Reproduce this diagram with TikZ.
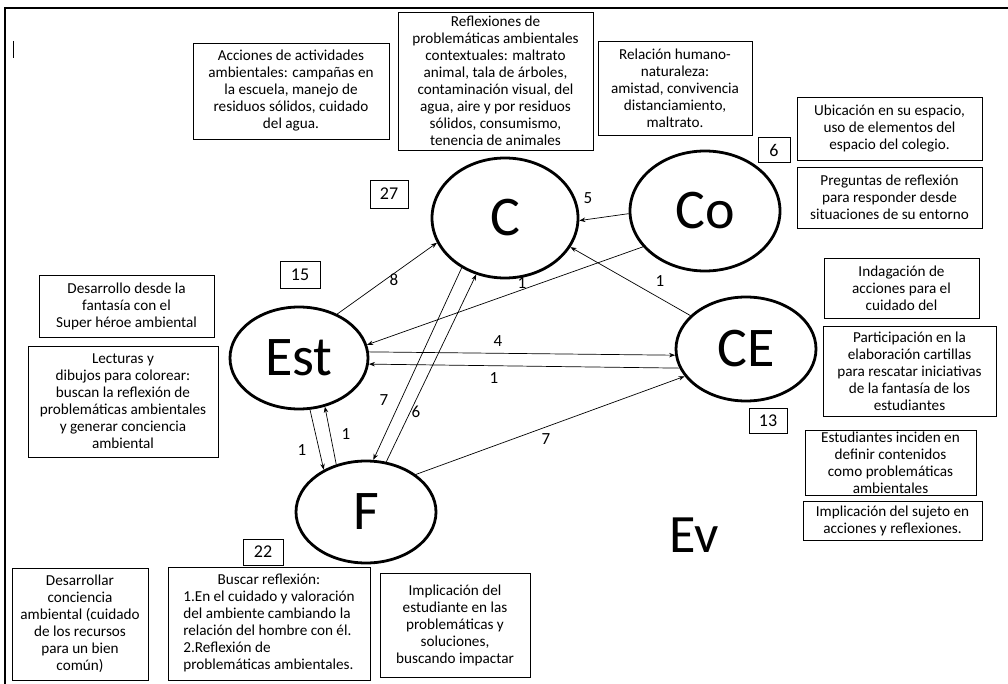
\documentclass[tikz,border=0pt]{standalone}
\usepackage{fontspec}
\setmainfont{Carlito}
\usetikzlibrary{arrows.meta,shapes.geometric}

\begin{document}
\begin{tikzpicture}[x=1pt,y=-1pt,
  note/.style={draw, line width=0.9pt, align=center, inner sep=0pt,
               font=\fontsize{15.2}{17}\selectfont},
  tag/.style={draw, line width=0.9pt, inner sep=0pt,
              font=\fontsize{18}{20}\selectfont},
  actor/.style={ellipse, draw, line width=2.8pt, inner sep=0pt,
                font=\fontsize{56}{58}\selectfont},
  link/.style={line width=0.7pt, -{Stealth[length=6pt,width=4.5pt]}},
  num/.style={inner sep=1pt, font=\fontsize{17}{19}\selectfont}
]
\useasboundingbox (0,0) rectangle (1008,684);

% page frame and cursor mark
\coordinate (frameTR) at (1008,8);
\coordinate (frameTL) at (5,8);
\coordinate (frameBL) at (5,684);
\draw[line width=1.6pt] (frameTR) -- (frameTL) -- (frameBL);
\coordinate (cursorA) at (13,41);
\coordinate (cursorB) at (13,58);
\draw[line width=1pt] (cursorA) -- (cursorB);

% categories
\node[actor, minimum width=146pt, minimum height=120pt] (C)   at (505,218) {C};
\node[actor, minimum width=150pt, minimum height=120pt] (Co)  at (705,211) {Co};
\node[actor, minimum width=138pt, minimum height=102pt] (Est) at (299,358) {Est};
\node[actor, minimum width=140pt, minimum height=104pt] (CE)  at (746,349) {CE};
\node[actor, minimum width=140pt, minimum height=102pt] (F)   at (366,512) {F};
\node[font=\fontsize{54}{56}\selectfont, inner sep=0pt] (Ev) at (694,535) {Ev};

% frequency tags
\node[tag, minimum width=38pt, minimum height=28pt] (t27) at (389,194) {27};
\node[tag, minimum width=40pt, minimum height=27pt] (t15) at (300,275) {15};
\node[tag, minimum width=32pt, minimum height=25pt] (t6)  at (774,150) {6};
\node[tag, minimum width=38pt, minimum height=25pt] (t13) at (768,421) {13};
\node[tag, minimum width=40pt, minimum height=26pt] (t22) at (263,552) {22};

% descriptive notes
\node[note, minimum width=196pt, minimum height=96pt] (nAcc) at (291,91)
  {Acciones de actividades\\ambientales: campañas en\\la escuela, manejo de\\residuos sólidos, cuidado\\del agua.};
\node[note, minimum width=195pt, minimum height=138pt] (nRef) at (495.5,81)
  {Reflexiones de\\problemáticas ambientales\\contextuales: maltrato\\animal, tala de árboles,\\contaminación visual, del\\agua, aire y por residuos\\sólidos, consumismo,\\tenencia de animales};
\node[note, minimum width=154pt, minimum height=94pt] (nRel) at (675,88)
  {Relación humano-\\naturaleza:\\amistad, convivencia\\distanciamiento,\\maltrato.};
\node[note, minimum width=185pt, minimum height=63pt] (nUbi) at (889.5,128.5)
  {Ubicación en su espacio,\\uso de elementos del\\espacio del colegio.};
\node[note, minimum width=185pt, minimum height=61pt] (nPre) at (889.5,197.5)
  {Preguntas de reflexión\\para responder desde\\situaciones de su entorno};
\node[note, minimum width=175pt, minimum height=62pt] (nDes) at (126.5,306)
  {Desarrollo desde la\\fantasía con el\\Super héroe ambiental};
\node[note, minimum width=190pt, minimum height=111pt] (nLec) at (123,401.5)
  {Lecturas y\\dibujos para colorear:\\buscan la reflexión de\\problemáticas ambientales\\y generar conciencia\\ambiental};
\node[note, minimum width=155pt, minimum height=60pt] (nInd) at (901.5,288)
  {Indagación de\\acciones para el\\cuidado del};
\node[note, minimum width=173pt, minimum height=90pt] (nPar) at (909.5,371)
  {Participación en la\\elaboración cartillas\\para rescatar iniciativas\\de la fantasía de los\\estudiantes};
\node[note, minimum width=171pt, minimum height=65pt] (nEst) at (890.5,462.5)
  {Estudiantes inciden en\\definir contenidos\\como problemáticas\\ambientales};
\node[note, minimum width=179pt, minimum height=39pt] (nImS) at (892.5,520.5)
  {Implicación del sujeto en\\acciones y reflexiones.};
\node[note, minimum width=136pt, minimum height=112pt] (nDar) at (80,624)
  {Desarrollar\\conciencia\\ambiental (cuidado\\de los recursos\\para un bien\\común)};
\node[note, minimum width=202pt, minimum height=113pt] (nBus) at (269,623.5)
  {\begin{tabular}{@{}l@{}}\multicolumn{1}{@{}c@{}}{Buscar reflexión:}\\
   1.En el cuidado y valoración\\del ambiente cambiando la\\relación del hombre con él.\\
   2.Reflexión de\\problemáticas ambientales.\end{tabular}};
\node[note, minimum width=150pt, minimum height=104pt] (nImE) at (455,625)
  {Implicación del\\estudiante en las\\problemáticas y\\soluciones,\\buscando impactar};

% relations between categories
\draw[link] (Est.49)  -- (C.200);
\draw[link] (Co.182)  -- (C.358);
\draw[link] (Co.210)  -- (Est.11);
\draw[link] (CE.149)  -- (C.336);
\draw[link] (Est.5)   -- (CE.185);
\draw[link] (CE.196)  -- (Est.355);
\draw[link] (C.229)   -- (F.82);
\draw[link] (F.68)    -- (C.243);
\draw[link] (Est.282) -- (F.135);
\draw[link] (F.122)   -- (Est.298);
\draw[link] (F.37)    -- (CE.204);

% relation counts
\node[num] (l8)   at (394,280) {8};
\node[num] (l5)   at (588,198) {5};
\node[num] (l1a)  at (522,283) {1};
\node[num] (l1b)  at (660,281) {1};
\node[num] (l4)   at (498,341) {4};
\node[num] (l1c)  at (494,378) {1};
\node[num] (l7a)  at (384,400) {7};
\node[num] (l6)   at (416,412) {6};
\node[num] (l1d)  at (302,450) {1};
\node[num] (l1e)  at (346,434) {1};
\node[num] (l7b)  at (546,439) {7};
\end{tikzpicture}
\end{document}
